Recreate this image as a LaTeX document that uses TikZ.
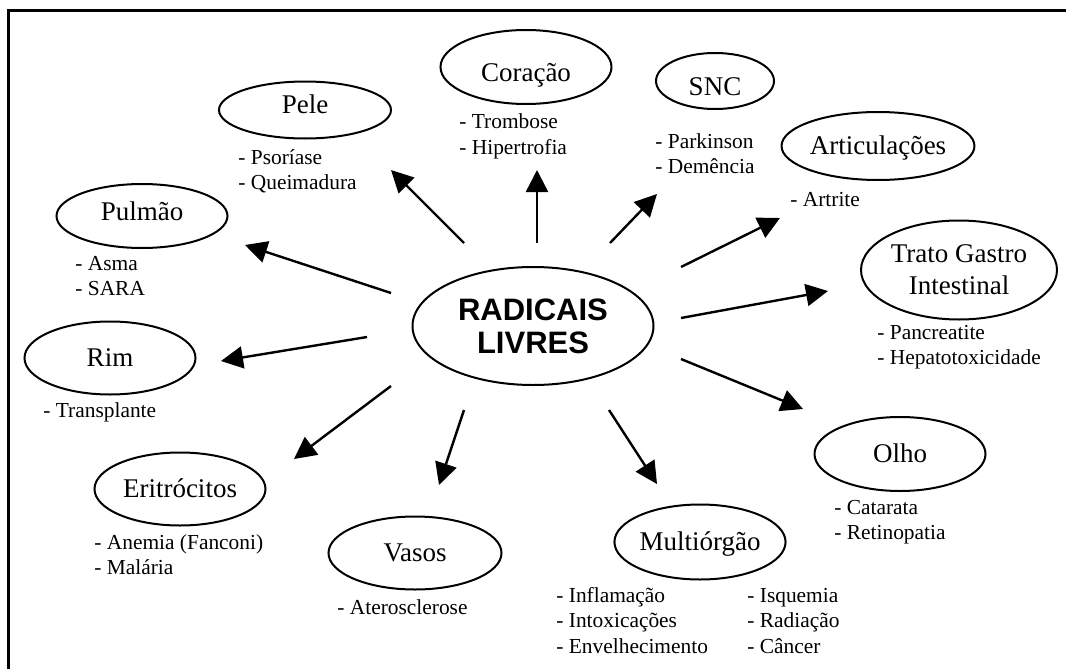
\documentclass[tikz,border=0pt]{standalone}
\usepackage{fontspec}
\setmainfont{Liberation Serif}
\newfontfamily\hubfont{Liberation Sans}
\usetikzlibrary{arrows.meta,shapes.geometric}

\begin{document}
\begin{tikzpicture}[
  x=0.5pt,y=-0.5pt,
  ell/.style={draw,ellipse,line width=1pt,inner sep=0pt,minimum width=85.5pt,minimum height=36.5pt,
    align=center,font=\fontsize{13.5}{16}\selectfont},
  organ/.style={ell,text height=8.9pt,text depth=0pt},
  hub/.style={ell,minimum width=120.5pt,minimum height=59pt,font=\hubfont\bfseries\fontsize{15.5}{16.5}\selectfont},
  sym/.style={anchor=base west,inner sep=0pt,align=left,font=\fontsize{10.7}{12.75}\selectfont},
  arr/.style={draw,line width=1.2pt,-{Triangle[length=11pt,width=11pt]}}
]
\useasboundingbox (0,0) rectangle (1066,669);
\draw[line width=1.5pt] (1066,10.5) -- (8.5,10.5) -- (8.5,669);

% centre
\node[hub] (rl) at (533,326) {RADICAIS\\LIVRES};

% organs
\node[organ,minimum width=86pt,minimum height=28.5pt,text depth=5pt] (pele) at (305,110) {Pele};
\node[organ,minimum height=32pt,text depth=4pt] (pulmao) at (142,216) {Pulmão};
\node[organ,minimum height=37pt,text height=14.9pt] (coracao) at (526,67) {Coração};
\node[organ,minimum width=59pt,minimum height=28pt,text height=14.9pt] (snc) at (715,81) {SNC};
\node[organ,minimum height=34pt] (artic) at (878,146) {Articulações};
\node[ell,minimum width=98pt,minimum height=49.5pt] (tgi) at (959,270) {Trato Gastro\\Intestinal};
\node[organ] (rim) at (110,358) {Rim};
\node[organ] (eritro) at (180,489) {Eritrócitos};
\node[organ,minimum width=86.5pt] (vasos) at (415,553) {Vasos};
\node[organ,minimum height=37.5pt] (multi) at (700,542) {Multiórgão};
\node[organ,minimum height=37pt] (olho) at (900,454) {Olho};

% diseases (base of the last line)
\node[sym] (pele-d) at (238,189.5) {- Psoríase\\- Queimadura};
\node[sym] (pulmao-d) at (75,295.5) {- Asma\\- SARA};
\node[sym] (coracao-d) at (459,154) {- Trombose\\- Hipertrofia};
\node[sym] (snc-d) at (655,173.5) {- Parkinson\\- Demência};
\node[sym] (artic-d) at (790,206) {- Artrite};
\node[sym] (tgi-d) at (877,364.5) {- Pancreatite\\- Hepatotoxicidade};
\node[sym] (rim-d) at (43,417) {- Transplante};
\node[sym] (eritro-d) at (94,574.5) {- Anemia (Fanconi)\\- Malária};
\node[sym] (vasos-d) at (337,614) {- Aterosclerose};
\node[sym] (multi-d1) at (556,653) {- Inflamação\\- Intoxicações\\- Envelhecimento};
\node[sym] (multi-d2) at (747,653) {- Isquemia\\- Radiação\\- Câncer};
\node[sym] (olho-d) at (834,539.5) {- Catarata\\- Retinopatia};

% arrows
\foreach \n/\ax/\ay/\bx/\by in {pele/464/243/391/170, pulmao/391/293/245/245,
    coracao/537/243/537/170, snc/610/243/657/194, artic/681/267/780/218,
    tgi/681/318/828/291, rim/367/337/221/361, eritro/391/386/294/459,
    vasos/464/410/439/485, multi/609/410/657/484, olho/681/359/803/409} {
  \coordinate (\n-a) at (\ax,\ay);
  \coordinate (\n-b) at (\bx,\by);
  \path[arr] (\n-a) -- (\n-b);
}
\end{tikzpicture}
\end{document}
